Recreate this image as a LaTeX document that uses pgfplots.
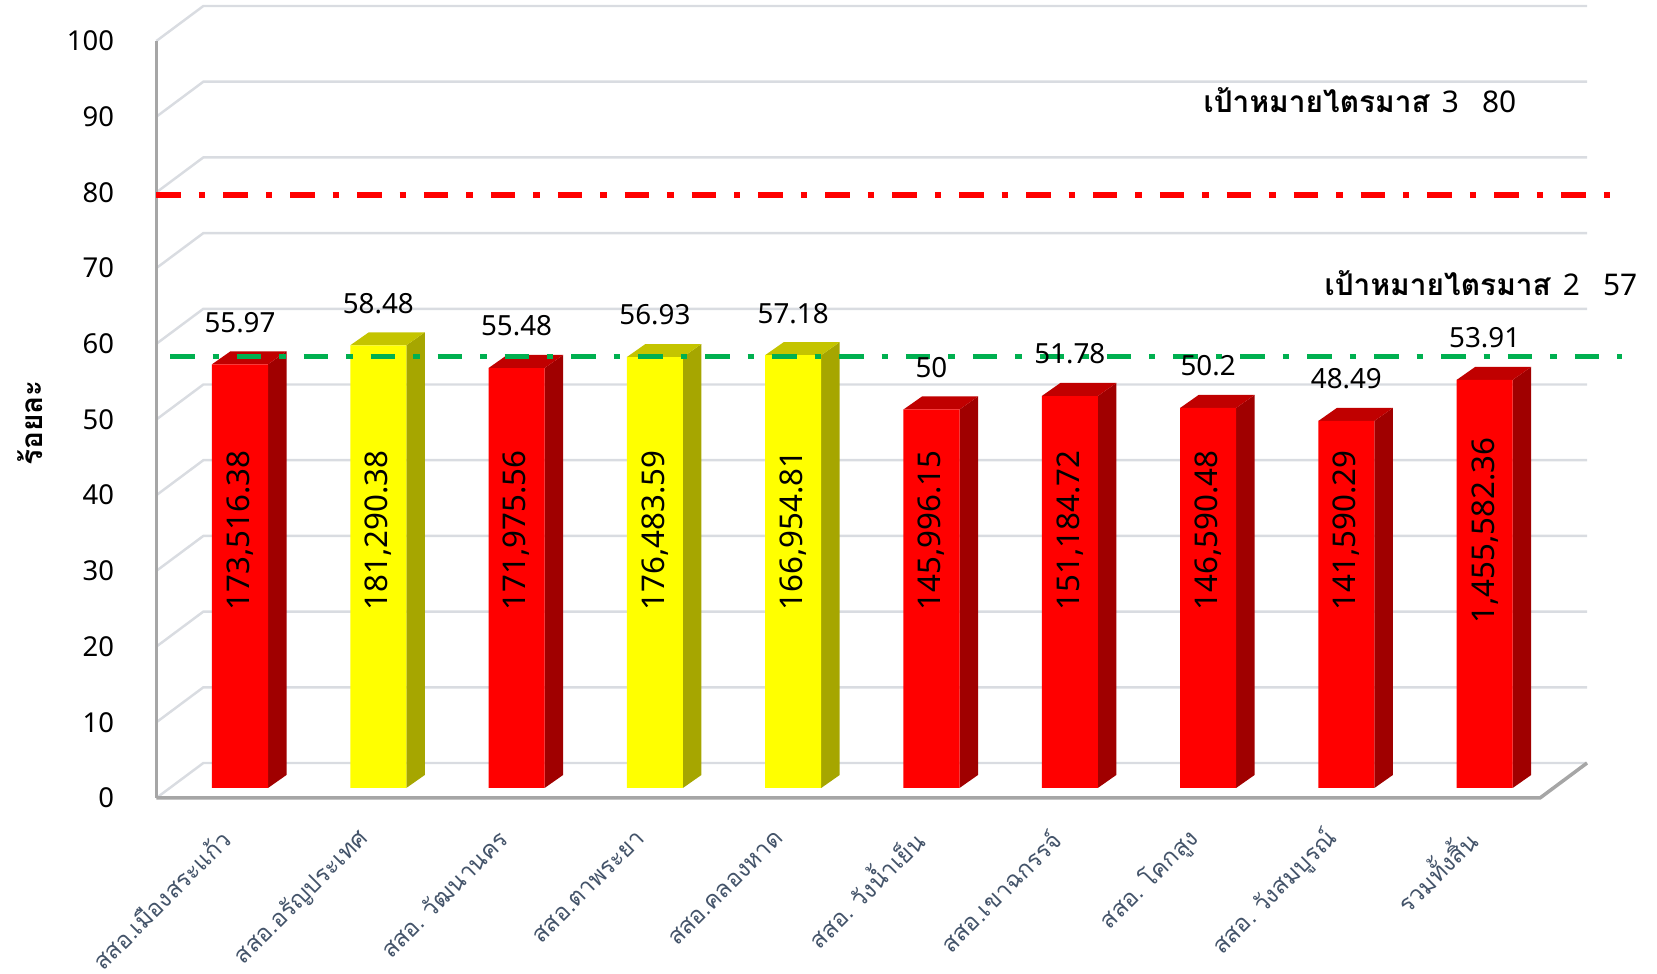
\documentclass[border=0pt]{standalone}
\usepackage{fontspec}
\setmainfont{Noto Sans}
\newfontfamily\thai[Script=Thai]{Loma}
\newfontfamily\thaicat[Script=Thai, WordSpace=0.6]{Loma}
\usepackage{pgfplots}
\usepackage{pgfplotstable}
\pgfplotsset{compat=1.18}
\definecolor{rf}{HTML}{FF0000}
\definecolor{rs}{HTML}{A00000}
\definecolor{rt}{HTML}{C00000}
\definecolor{yf}{HTML}{FFFF00}
\definecolor{ys}{HTML}{A6A600}
\definecolor{yt}{HTML}{C4C400}
\definecolor{gridc}{HTML}{D9DCE1}
\definecolor{framec}{HTML}{A6A6A6}
\definecolor{tgtgreen}{HTML}{00B050}
\definecolor{catc}{HTML}{44546A}

\pgfplotstableread{
x v
0 55.97
2 55.48
5 50
6 51.78
7 50.2
8 48.49
9 53.91
}\redbars
\pgfplotstableread{
x v
1 58.48
3 56.93
4 57.18
}\yellowbars

\newcommand\barfaces[4]{%
 \pgfmathsetmacro\xl{#1-0.2025}%
 \pgfmathsetmacro\xr{#1+0.2025}%
 \pgfmathsetmacro\xs{#1+0.3365}%
 \pgfmathsetmacro\xt{#1-0.0685}%
 \pgfmathsetmacro\vt{#2+1.72}%
 \edef\doit{%
  \noexpand\addplot[fill=#3,draw=none,forget plot] coordinates {(\xr,0) (\xs,1.72) (\xs,\vt) (\xr,#2)};%
  \noexpand\addplot[fill=#4,draw=none,forget plot] coordinates {(\xl,#2) (\xr,#2) (\xs,\vt) (\xt,\vt)};%
 }\doit}

\begin{document}
\begin{tikzpicture}
\useasboundingbox (0,0) rectangle (16.57cm,9.74cm);
\begin{axis}[
  at={(2.40cm,1.86cm)}, anchor=origin,
  x=1.383cm, y=0.0757cm,
  xmin=-0.6045, xmax=9.74, ymin=-1.32, ymax=103.3,
  clip=false,
  axis line style={draw=none},
  major tick length=0pt,
  /pgf/number format/assume math mode=true,
  ytick={-1.32,8.68,18.68,28.68,38.68,48.68,58.68,68.68,78.68,88.68,98.68},
  yticklabels={0,10,20,30,40,50,60,70,80,90,100},
  yticklabel style={font=\fontsize{7.8}{9}\selectfont, xshift=-0.30cm},
  xtick={0,...,9},
  xticklabels={{สสอ.เมืองสระแก้ว},{สสอ.อรัญประเทศ},{สสอ. วัฒนานคร},{สสอ.ตาพระยา},{สสอ.คลองหาด},{สสอ. วังน้ำเย็น},{สสอ.เขาฉกรรจ์},{สสอ. โคกสูง},{สสอ. วังสมบูรณ์},{รวมทั้งสิ้น}},
  xticklabel style={font=\thaicat\fontsize{6.8}{8}\selectfont, text=catc, xshift=-0.05cm, yshift=-0.28cm, rotate=45, anchor=east},
  ylabel={\thai\bfseries ร้อยละ},
  every axis y label/.style={at={(axis cs:-1.521,48.2)}, rotate=90, anchor=center, font=\fontsize{8.5}{10}\selectfont},
]
% back wall / gridlines
\addplot[gridc, line width=0.7pt, forget plot] coordinates {(-0.6045,-1.32) (-0.265,3.3) (9.74,3.3)};
\addplot[gridc, line width=0.7pt, forget plot] coordinates {(-0.6045,8.68) (-0.265,13.3) (9.74,13.3)};
\addplot[gridc, line width=0.7pt, forget plot] coordinates {(-0.6045,18.68) (-0.265,23.3) (9.74,23.3)};
\addplot[gridc, line width=0.7pt, forget plot] coordinates {(-0.6045,28.68) (-0.265,33.3) (9.74,33.3)};
\addplot[gridc, line width=0.7pt, forget plot] coordinates {(-0.6045,38.68) (-0.265,43.3) (9.74,43.3)};
\addplot[gridc, line width=0.7pt, forget plot] coordinates {(-0.6045,48.68) (-0.265,53.3) (9.74,53.3)};
\addplot[gridc, line width=0.7pt, forget plot] coordinates {(-0.6045,58.68) (-0.265,63.3) (9.74,63.3)};
\addplot[gridc, line width=0.7pt, forget plot] coordinates {(-0.6045,68.68) (-0.265,73.3) (9.74,73.3)};
\addplot[gridc, line width=0.7pt, forget plot] coordinates {(-0.6045,78.68) (-0.265,83.3) (9.74,83.3)};
\addplot[gridc, line width=0.7pt, forget plot] coordinates {(-0.6045,88.68) (-0.265,93.3) (9.74,93.3)};
\addplot[gridc, line width=0.7pt, forget plot] coordinates {(-0.6045,98.68) (-0.265,103.3) (9.74,103.3)};
% floor and front axis line
\addplot[framec, line width=1.0pt, forget plot] coordinates {(9.74,3.3) (9.40,-1.32) (-0.6045,-1.32)};
\addplot[framec, line width=0.85pt, forget plot] coordinates {(-0.6045,-1.32) (-0.6045,98.68)};
% 3D faces of the bars
\barfaces{0}{55.97}{rs}{rt}
\barfaces{1}{58.48}{ys}{yt}
\barfaces{2}{55.48}{rs}{rt}
\barfaces{3}{56.93}{ys}{yt}
\barfaces{4}{57.18}{ys}{yt}
\barfaces{5}{50}{rs}{rt}
\barfaces{6}{51.78}{rs}{rt}
\barfaces{7}{50.2}{rs}{rt}
\barfaces{8}{48.49}{rs}{rt}
\barfaces{9}{53.91}{rs}{rt}
% front faces
\addplot[ybar, bar width=0.405, bar shift=0pt, fill=rf, draw=none,
  nodes near coords={\pgfmathprintnumber[fixed,precision=2]{\pgfplotspointmeta}},
  every node near coord/.append style={text=black, anchor=south, inner sep=0pt, yshift=0.31cm, font=\fontsize{7.9}{9}\selectfont}]
  table[x=x,y=v]{\redbars};
\addplot[ybar, bar width=0.405, bar shift=0pt, fill=yf, draw=none,
  nodes near coords={\pgfmathprintnumber[fixed,precision=2]{\pgfplotspointmeta}},
  every node near coord/.append style={text=black, anchor=south, inner sep=0pt, yshift=0.31cm, font=\fontsize{7.9}{9}\selectfont}]
  table[x=x,y=v]{\yellowbars};
% target lines
\addplot[tgtgreen, line width=1.7pt, dash pattern=on 0.245cm off 0.18cm on 0.064cm off 0.18cm] coordinates {(-0.506,57) (9.99,57)};
\addplot[rf, line width=1.7pt, dash pattern=on 0.245cm off 0.18cm on 0.064cm off 0.18cm] coordinates {(-0.6045,78.3) (9.906,78.3)};
% labels inside bars
\begin{scope}[every node/.style={rotate=90, font=\fontsize{8.9}{10}\selectfont, inner sep=0pt}]
\node at (axis cs:0,34) {173,516.38};
\node at (axis cs:1,34) {181,290.38};
\node at (axis cs:2,34) {171,975.56};
\node at (axis cs:3,34) {176,483.59};
\node at (axis cs:4,34) {166,954.81};
\node at (axis cs:5,34) {145,996.15};
\node at (axis cs:6,34) {151,184.72};
\node at (axis cs:7,34) {146,590.48};
\node at (axis cs:8,34) {141,590.29};
\node at (axis cs:9,34) {1,455,582.36};
\end{scope}
% target annotations
\node[anchor=base east, inner sep=0pt, font=\fontsize{8.5}{10}\selectfont] at (axis cs:9.233,89.2) {{\thai\bfseries เป้าหมายไตรมาส}\hspace{0.12cm}3\hspace{0.23cm}80};
\node[anchor=base east, inner sep=0pt, font=\fontsize{8.5}{10}\selectfont] at (axis cs:10.108,65.1) {{\thai\bfseries เป้าหมายไตรมาส}\hspace{0.12cm}2\hspace{0.23cm}57};
\end{axis}
\end{tikzpicture}
\end{document}
